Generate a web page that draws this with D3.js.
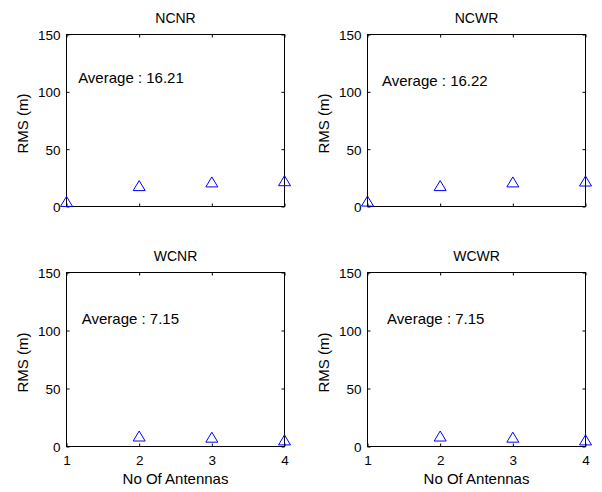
<!DOCTYPE html>
<html>
<head>
<meta charset="utf-8">
<script src="https://cdn.jsdelivr.net/npm/d3@7"></script>
<style>
  body { margin: 0; background: #fff; }
  svg { display: block; font-family: "Liberation Sans", Arial, sans-serif; }
</style>
</head>
<body>
<div id="chart"></div>
<script>
// data
var antennas = [1, 2, 3, 4];
var xTicks = [1, 2, 3, 4];
var yTicks = [0, 50, 100, 150];
var titles = ["NCNR", "NCWR", "WCNR", "WCWR"];
var averages = ["16.21", "16.22", "7.15", "7.15"];
var ncnr = [4.0, 17.8, 21.0, 22.05];
var ncwr = [4.3, 17.8, 21.0, 21.8];
var wcnr = [null, 8.6, 7.6, 5.25];
var wcwr = [null, 8.6, 7.6, 5.25];

var series = [ncnr, ncwr, wcnr, wcwr];

// panel boxes [left, right, top, bottom] and where the average note sits (data coords)
var boxes = [
  [66.5, 284.5, 34.5, 206.5],
  [367.5, 585.5, 34.5, 206.5],
  [66.5, 284.5, 272.5, 446.5],
  [367.5, 585.5, 272.5, 446.5]
];
var notePos = [[1.16, 108], [1.2, 105], [1.21, 106], [1.27, 106]];

var svg = d3.select("#chart").append("svg")
  .attr("width", 602)
  .attr("height", 492);

svg.append("rect").attr("width", 602).attr("height", 492).attr("fill", "#fff");

function drawPanel(i) {
  var b = boxes[i];
  var bottomRow = i >= 2;

  var x = d3.scaleLinear().domain([1, 4]).range([b[0], b[1]]);
  var y = d3.scaleLinear().domain([0, 150]).range([b[3], b[2]]);

  var g = svg.append("g");

  // left axis with labels
  var left = g.append("g")
    .attr("transform", "translate(" + b[0] + ",0)")
    .call(d3.axisLeft(y).tickValues(yTicks).tickSizeInner(-3).tickSizeOuter(0).tickPadding(6));

  // bottom axis, labels only on lower row
  g.append("g")
    .attr("transform", "translate(0," + b[3] + ")")
    .call(d3.axisBottom(x).tickValues(xTicks).tickSizeInner(-3).tickSizeOuter(0).tickPadding(9)
      .tickFormat(bottomRow ? d3.format("d") : function () { return ""; }));

  // mirrored ticks on top and right
  g.append("g")
    .attr("transform", "translate(" + b[1] + ",0)")
    .call(d3.axisRight(y).tickValues(yTicks).tickSizeInner(-3).tickSizeOuter(0).tickFormat(""));
  g.append("g")
    .attr("transform", "translate(0," + b[2] + ")")
    .call(d3.axisTop(x).tickValues(xTicks).tickSizeInner(-3).tickSizeOuter(0).tickFormat(""));

  g.selectAll(".domain").remove();
  g.selectAll(".tick line").attr("stroke", "#000");
  g.selectAll(".tick text")
    .attr("fill", "#000")
    .style("font-size", "13.5px")
    .style("font-family", "'Liberation Sans', Arial, sans-serif");
  left.selectAll(".tick text").attr("dy", "0.36em");

  // box
  g.append("rect")
    .attr("x", b[0]).attr("y", b[2])
    .attr("width", b[1] - b[0]).attr("height", b[3] - b[2])
    .attr("fill", "none").attr("stroke", "#000").attr("stroke-width", 1);

  // title
  g.append("text")
    .attr("x", (b[0] + b[1]) / 2)
    .attr("y", b[2] - 11.5)
    .attr("text-anchor", "middle")
    .style("font-size", "14px")
    .text(titles[i]);

  // y label
  g.append("text")
    .attr("transform", "translate(" + (b[0] - 39) + "," + ((b[2] + b[3]) / 2 + 3) + ") rotate(-90)")
    .attr("text-anchor", "middle")
    .style("font-size", "15px")
    .text("RMS (m)");

  if (bottomRow) {
    g.append("text")
      .attr("x", (b[0] + b[1]) / 2)
      .attr("y", b[3] + 37)
      .attr("text-anchor", "middle")
      .style("font-size", "15px")
      .text("No Of Antennas");
  }

  // average note
  g.append("text")
    .attr("x", x(notePos[i][0]))
    .attr("y", y(notePos[i][1]))
    .style("font-size", "15px")
    .text("Average : " + averages[i]);

  // triangle markers
  var pts = antennas.map(function (a, k) { return { a: a, v: series[i][k] }; })
    .filter(function (d) { return d.v != null; });

  g.selectAll(".mark")
    .data(pts)
    .enter()
    .append("path")
    .attr("class", "mark")
    .attr("d", function (d) {
      var cx = x(d.a), cy = y(d.v);
      return "M" + cx + "," + (cy - 5.5) + "L" + (cx + 6) + "," + (cy + 4.5) + "L" + (cx - 6) + "," + (cy + 4.5) + "Z";
    })
    .attr("fill", "none")
    .attr("stroke", "#0000ff")
    .attr("stroke-width", 1);
}

for (var i = 0; i < 4; i++) {
  drawPanel(i);
}
</script>
</body>
</html>
